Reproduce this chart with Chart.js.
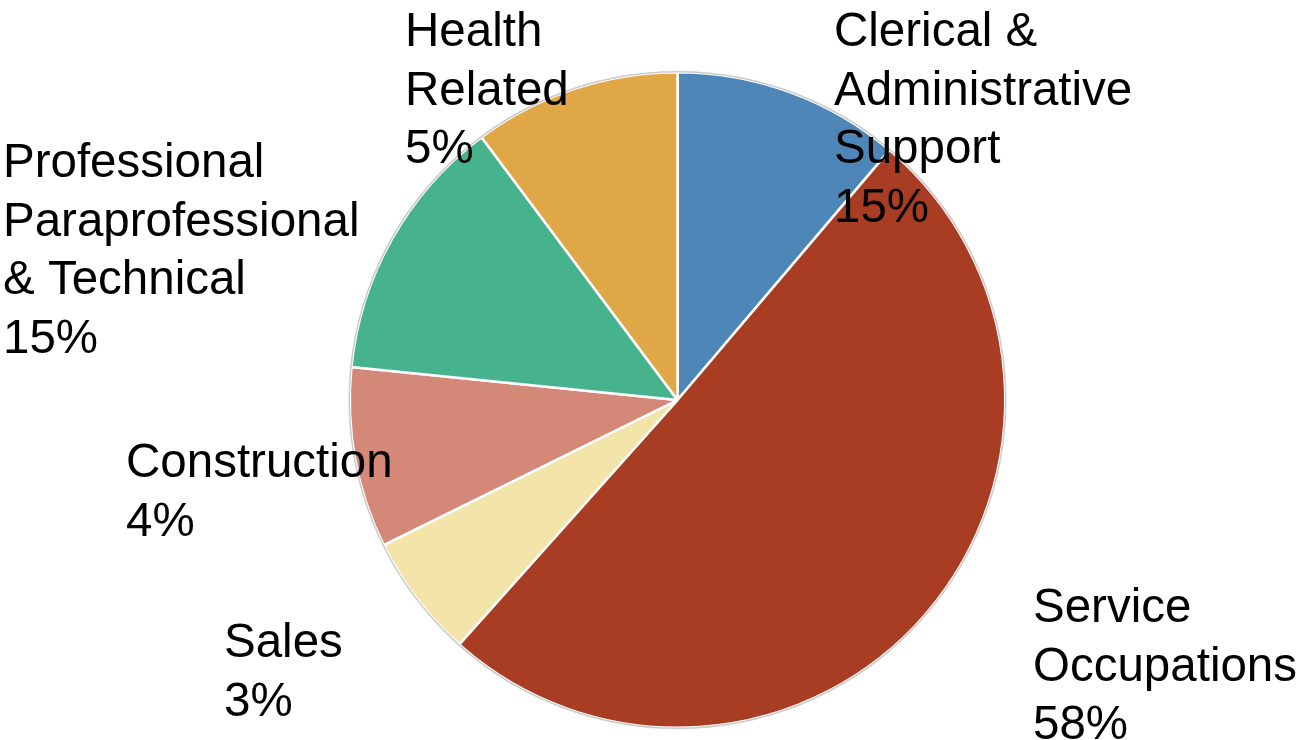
<!DOCTYPE html>
<html>
<head>
<meta charset="utf-8">
<script src="https://cdn.jsdelivr.net/npm/chart.js@4/dist/chart.umd.min.js"></script>
<style>
  html, body { margin: 0; padding: 0; background: #fff; }
  #wrap { width: 1303px; height: 740px; position: relative; }
</style>
</head>
<body>
<div id="wrap"><canvas id="pie"></canvas></div>
<script>
// ======= DADOS =======
const categories = [
  "Clerical & Administrative Support",
  "Service Occupations",
  "Sales",
  "Construction",
  "Professional Paraprofessional & Technical",
  "Health Related"
];
const sliceValues = [11.2, 50.4, 6.1, 8.9, 13.2, 10.2];
// percentages printed in the labels
const percentLabels = ["15%", "58%", "3%", "4%", "15%", "5%"];
// how each category name is broken into lines
const labelLines = [
  ["Clerical &", "Administrative", "Support"],
  ["Service", "Occupations"],
  ["Sales"],
  ["Construction"],
  ["Professional", "Paraprofessional", "& Technical"],
  ["Health", "Related"]
];

// ======= ESTILO =======
const sliceColors = ["#4E86B8", "#A93D24", "#F3E4A9", "#D38878", "#47B38D", "#E0A747"];
// label block: left x, baseline of first line
const labelAnchors = [[834, 46], [1033, 622], [224, 657], [126, 477], [3, 177], [405, 46]];
const lineStep = 58.5;

// ======= RÓTULOS =======
const labelPlugin = {
  id: "pieLabels",
  afterDatasetsDraw(chart) {
    const ctx = chart.ctx;
    const arc = chart.getDatasetMeta(0).data[0];
    // faint grey rim round the pie
    ctx.save();
    ctx.beginPath();
    ctx.arc(arc.x, arc.y, arc.outerRadius + 0.5, 0, Math.PI * 2);
    ctx.strokeStyle = "rgba(140,140,140,0.45)";
    ctx.lineWidth = 1.5;
    ctx.stroke();

    ctx.fillStyle = "#000";
    ctx.font = "47.5px 'Liberation Sans', Arial, sans-serif";
    ctx.textAlign = "left";
    ctx.textBaseline = "alphabetic";
    categories.forEach((c, i) => {
      const lines = [...labelLines[i], percentLabels[i]];
      const [x, y] = labelAnchors[i];
      lines.forEach((t, k) => ctx.fillText(t, x, y + k * lineStep));
    });
    ctx.restore();
  }
};

new Chart(document.getElementById("pie"), {
  type: "pie",
  data: {
    labels: categories,
    datasets: [{
      data: sliceValues,
      backgroundColor: sliceColors,
      borderColor: "#ffffff",
      borderWidth: 2.5
    }]
  },
  options: {
    responsive: true,
    maintainAspectRatio: false,
    animation: false,
    layout: { padding: { left: 348, right: 296, top: 71, bottom: 11 } },
    plugins: {
      legend: { display: false },
      tooltip: { enabled: false }
    }
  },
  plugins: [labelPlugin]
});
</script>
</body>
</html>
